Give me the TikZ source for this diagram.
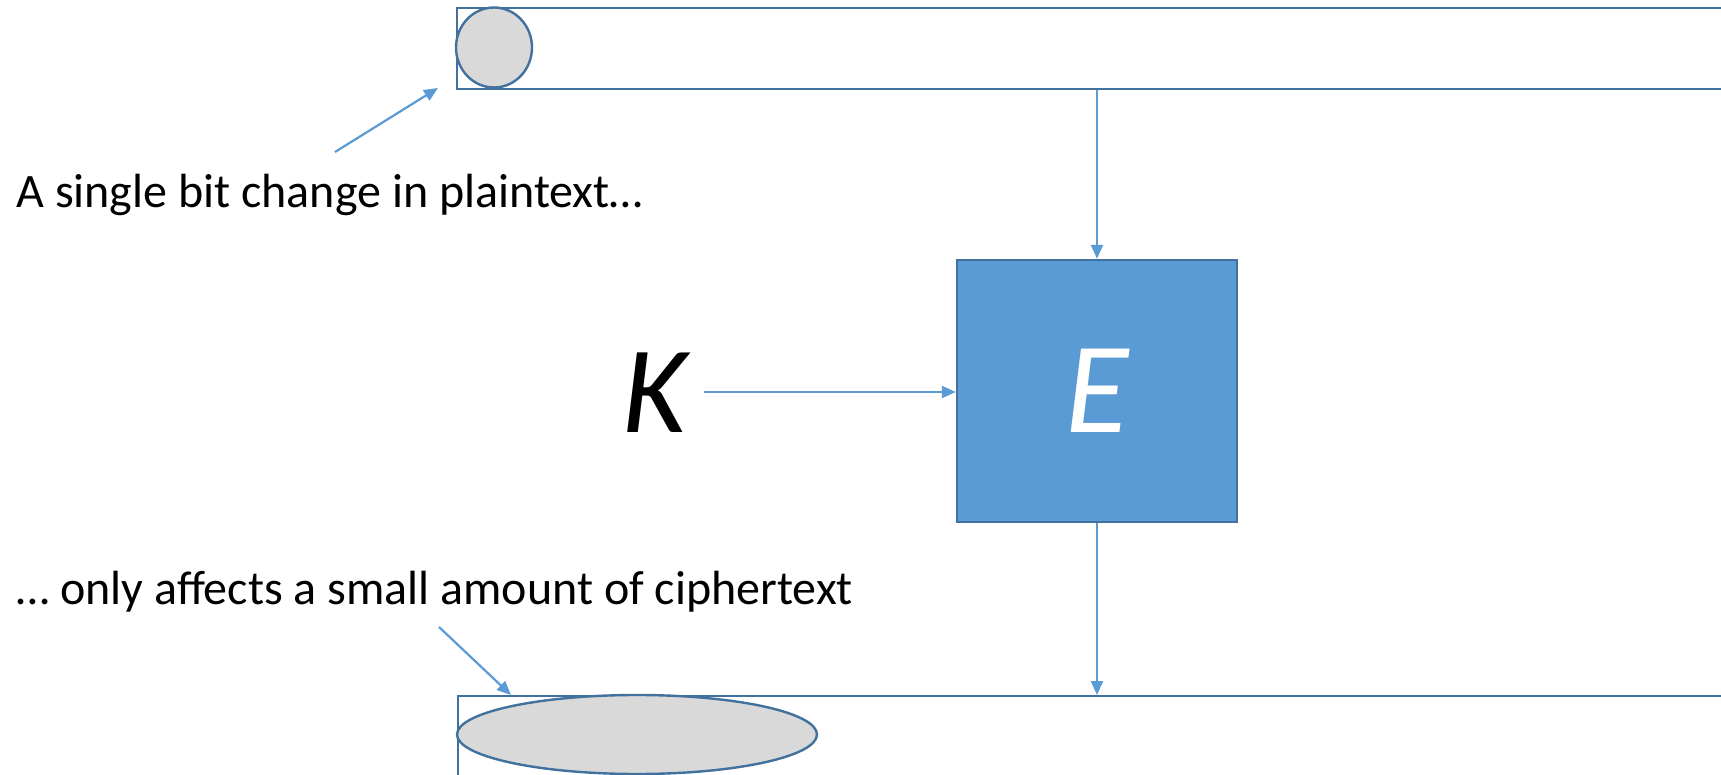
\documentclass[tikz,border=0pt]{standalone}
\usepackage{fontspec}
\setmainfont{Carlito}
\usetikzlibrary{arrows.meta}
\definecolor{outl}{HTML}{41719C}
\definecolor{acc}{HTML}{5B9BD5}
\definecolor{shade}{HTML}{D9D9D9}
\begin{document}
\begin{tikzpicture}[x=0.5pt,y=-0.5pt,
  blockbar/.style={draw=outl, line width=1.2pt, fill=white, anchor=north west, minimum width=650pt, minimum height=40.5pt, inner sep=0pt},
  conn/.style={draw=acc, line width=1.1pt, -{Triangle[length=7pt,width=6pt]}},
  lbl/.style={font=\fontsize{24}{28}\selectfont, anchor=west, inner sep=0pt}]
\useasboundingbox (0,0) rectangle (1721,775);
\clip (0,0) rectangle (1721,775);
\fill[white] (0,0) rectangle (1721,775);
% plaintext bar
\node[blockbar] (top) at (456,7) {};
\draw[draw=outl, line width=1.2pt, fill=shade] (494,47.5) ellipse [x radius=38, y radius=40] node (bit) {};
% ciphertext bar
\node[blockbar] (bot) at (457,695) {};
\draw[draw=outl, line width=1.2pt, fill=shade] (637,734.5) ellipse [x radius=180, y radius=39.5] node (spread) {};
% encryption box
\node[draw=outl, line width=1.2pt, fill=acc, minimum width=140pt, minimum height=131pt, inner sep=0pt,
  font=\fontsize{65}{70}\selectfont\itshape, text=white] (E) at (1097,391) {E};
\node[font=\fontsize{62}{66}\selectfont\itshape, inner sep=0pt] (K) at (655,393) {K};
% connectors
\draw[conn] (top.south -| E.north) -- (E.north);
\draw[conn] (E.south) -- (E.south |- bot.north);
\coordinate (kstart) at (704,392);
\draw[conn] (kstart) -- (E.west |- kstart);
% labels
\node[lbl] (t1) at (16,195) {A single bit change in plaintext…};
\node[lbl] (t2) at (16,592) {… only affects a small amount of ciphertext};
\coordinate (a1s) at (335,152);
\coordinate (a1e) at (438,88);
\draw[conn] (a1s) -- (a1e);
\coordinate (a2s) at (439,627);
\coordinate (a2e) at (511,695);
\draw[conn] (a2s) -- (a2e);
\end{tikzpicture}
\end{document}
